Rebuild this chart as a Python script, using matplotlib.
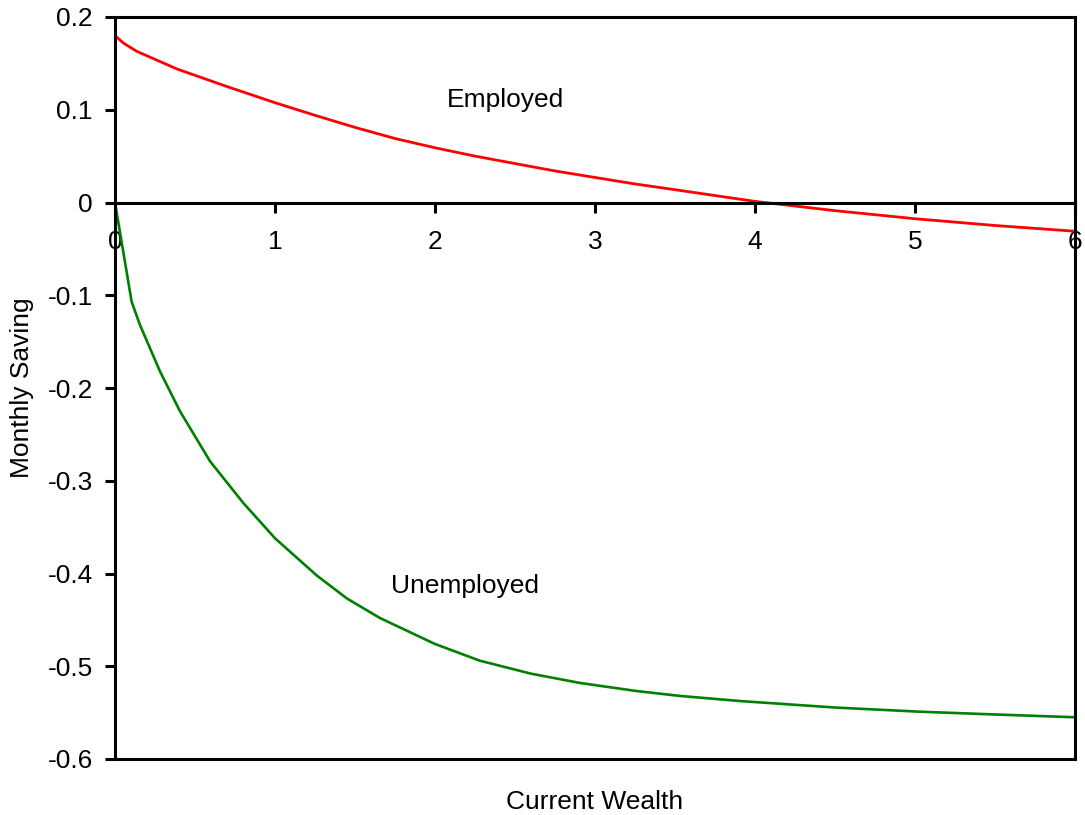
import matplotlib
matplotlib.use("Agg")
import matplotlib.pyplot as plt

plt.rcParams["font.family"] = ["Liberation Sans", "DejaVu Sans"]

# values
wealth_emp = [0, 0.052, 0.136, 0.387, 0.7, 1.0, 1.25, 1.5, 1.75, 2.0, 2.25, 2.5,
              2.75, 3.0, 3.25, 3.5, 3.75, 4.0, 4.5, 5.0, 5.5, 6.0]
saving_emp = [0.180, 0.172, 0.163, 0.144, 0.125, 0.1076, 0.094, 0.081, 0.069, 0.059,
              0.050, 0.042, 0.034, 0.027, 0.020, 0.0138, 0.0075, 0.0012, -0.0088,
              -0.0175, -0.0248, -0.031]

wealth_unemp = [0, 0.104, 0.156, 0.281, 0.406, 0.594, 0.802, 1.0, 1.26, 1.45, 1.656,
                2.0, 2.28, 2.6, 2.906, 3.25, 3.531, 3.906, 4.5, 5.03, 5.5, 6.0]
saving_unemp = [0.0, -0.107, -0.132, -0.182, -0.225, -0.279, -0.324, -0.362, -0.402,
                -0.427, -0.448, -0.476, -0.494, -0.508, -0.518, -0.5265, -0.532,
                -0.5375, -0.5445, -0.549, -0.552, -0.555]

x_ticks = [0, 1, 2, 3, 4, 5, 6]
y_ticks = [0.2, 0.1, 0, -0.1, -0.2, -0.3, -0.4, -0.5, -0.6]
y_ticklabels = ["0.2", "0.1", "0", "-0.1", "-0.2", "-0.3", "-0.4", "-0.5", "-0.6"]

FS = 19
LW = 2.2

fig = plt.figure(figsize=(10.85, 8.15), dpi=100)
ax = fig.add_axes([115 / 1085, 1 - 759 / 815, 960 / 1085, 742 / 815])

ax.plot(wealth_emp, saving_emp, color="#ff0000", lw=2.0, solid_joinstyle="round")
ax.plot(wealth_unemp, saving_unemp, color="#008000", lw=1.9, solid_joinstyle="round")

ax.set_xlim(0, 6)
ax.set_ylim(-0.6, 0.2)

# x axis runs through zero, box kept around the plot
ax.spines["bottom"].set_position(("data", 0))
for s in ax.spines.values():
    s.set_linewidth(LW)
    s.set_color("black")
ax.axhline(-0.6, color="black", lw=LW, clip_on=False, zorder=3)

ax.set_xticks(x_ticks)
ax.set_xticklabels([str(t) for t in x_ticks])
ax.set_yticks(y_ticks)
ax.set_yticklabels(y_ticklabels)
ax.tick_params(axis="x", direction="out", length=7, width=LW, labelsize=FS, pad=13)
ax.tick_params(axis="y", direction="out", length=7, width=LW, labelsize=FS, pad=9)

ax.text(2.44, 0.111, "Employed", fontsize=FS, ha="center", va="center")
ax.text(2.19, -0.414, "Unemployed", fontsize=FS, ha="center", va="center")

fig.text(595 / 1085, 1 - 802 / 815, "Current Wealth", fontsize=FS, ha="center", va="center")
fig.text(22 / 1085, 1 - 388 / 815, "Monthly Saving", fontsize=FS, ha="center", va="center",
         rotation=90)

fig.savefig("out.png", dpi=100, facecolor="white")
